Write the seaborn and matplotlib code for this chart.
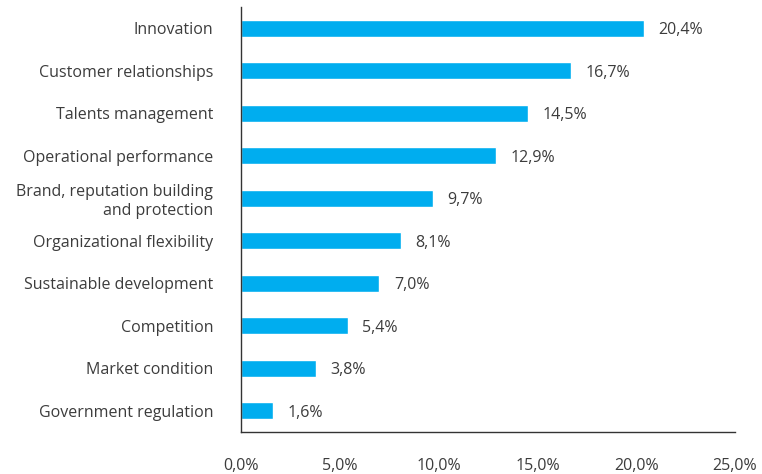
import matplotlib
matplotlib.use("Agg")
import matplotlib.pyplot as plt
import seaborn as sns
import pandas as pd
from matplotlib.ticker import FuncFormatter

categories = [
    "Innovation",
    "Customer relationships",
    "Talents management",
    "Operational performance",
    "Brand, reputation building\nand protection",
    "Organizational flexibility",
    "Sustainable development",
    "Competition",
    "Market condition",
    "Government regulation",
]
values = [20.4, 16.7, 14.5, 12.9, 9.7, 8.1, 7.0, 5.4, 3.8, 1.6]
x_ticks = [0, 5, 10, 15, 20, 25]

sns.set_theme(style="white")
plt.rcParams["font.family"] = ["Open Sans", "DejaVu Sans"]

df = pd.DataFrame({"category": categories, "value": values})

fig = plt.figure(figsize=(7.62, 4.74), dpi=100)
ax = fig.add_axes([241 / 762, 1 - 432 / 474, (735 - 241) / 762, (432 - 7) / 474])

sns.barplot(data=df, x="value", y="category", orient="h", color="#00ADEF",
            saturation=1, width=0.39, ax=ax)

ax.set_xlim(0, 25)
ax.set_ylim(len(categories) - 0.5, -0.5)
ax.set_xticks(x_ticks)
ax.xaxis.set_major_formatter(FuncFormatter(lambda v, p: f"{v:.1f}%".replace(".", ",")))
ax.set_xlabel("")
ax.set_ylabel("")

text_color = "#3c3c3c"
fs = 11.5
ax.tick_params(axis="x", length=0, pad=19, labelsize=fs, labelcolor=text_color)
ax.tick_params(axis="y", length=0, pad=20, labelsize=fs, labelcolor=text_color)

for s in ["top", "right"]:
    ax.spines[s].set_visible(False)
for s in ["left", "bottom"]:
    ax.spines[s].set_color("#333333")
    ax.spines[s].set_linewidth(1.0)

for i, v in enumerate(values):
    ax.annotate(f"{v:.1f}%".replace(".", ","), xy=(v, i), xytext=(10.5, -1.5),
                textcoords="offset points", va="center", ha="left",
                fontsize=fs, color=text_color)

fig.savefig("out.png", dpi=100)
